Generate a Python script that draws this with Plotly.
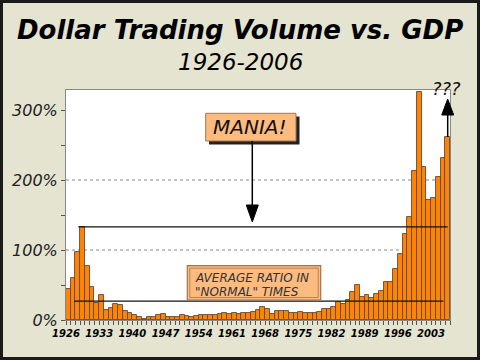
import plotly.graph_objects as go

# ---- data ----
years = list(range(1926, 2007))
ratio_pct = [
    45, 60, 97, 133, 77, 47, 24, 35.5, 15, 16.5,          # 1926-1935
    23, 21.5, 13.5, 10.5, 6.7, 3.8, 2, 4.3, 4.3, 7,        # 1936-1945
    8, 4.8, 4.8, 4.8, 6.7, 5.7, 5, 6, 7.5, 7.5,            # 1946-1955
    7.5, 7.5, 9, 9.5, 9, 10, 9, 10, 10, 11.5,              # 1956-1965
    15, 19, 16, 8.5, 13, 13, 12.5, 9.5, 10, 11,            # 1966-1975
    9.5, 10.5, 10.5, 11.4, 15.7, 15.2, 18, 25.7, 23.3, 28, # 1976-1985
    39.5, 50, 32.4, 36, 31.5, 37, 41, 55, 55, 73,          # 1986-1995
    94, 123, 147, 213, 326, 218, 171, 175, 204, 231,       # 1996-2005
    261,                                                   # 2006
]
label_years = list(range(1926, 2004, 7))
y_ticks = [0, 100, 200, 300]
normal_avg = 27
mania_level = ratio_pct[years.index(1929)]

# ---- geometry helpers (pixel -> paper) ----
W, H = 480, 360
L, R, T, B = 66, 450, 90, 320
def px(x):
    return (x - L) / (R - L)
def py(y):
    return (B - y) / (B - T)

FONT = "DejaVu Sans"
BOX_FILL = "#FDBB80"
BOX_LINE = "#A8734A"

fig = go.Figure()
fig.add_trace(go.Bar(
    x=years, y=ratio_pct,
    marker=dict(color="#FF8405", line=dict(color="#5E4A38", width=0.9)),
    hoverinfo="x+y",
))

shapes = []
# dotted gridlines
for g in [100, 200]:
    shapes.append(dict(type="line", xref="paper", yref="y", x0=0, x1=1, y0=g, y1=g,
                       line=dict(color="#888888", width=1, dash="dot"), layer="below"))
# mania & average lines
shapes.append(dict(type="line", xref="x", yref="y", x0=1928.1, x1=2006.0,
                   y0=mania_level, y1=mania_level, line=dict(color="#111111", width=1.3)))
shapes.append(dict(type="line", xref="x", yref="y", x0=1927.2, x1=2005.1,
                   y0=normal_avg, y1=normal_avg, line=dict(color="#111111", width=1.3)))
# MANIA box with shadow
shapes.append(dict(type="rect", xref="paper", yref="paper",
                   x0=px(209), x1=px(299.5), y0=py(144.5), y1=py(116.5),
                   fillcolor="#222222", line=dict(width=0)))
shapes.append(dict(type="rect", xref="paper", yref="paper",
                   x0=px(205.7), x1=px(296), y0=py(141), y1=py(113.3),
                   fillcolor=BOX_FILL, line=dict(color=BOX_LINE, width=1)))
# MANIA arrow
ax = 252.3
shapes.append(dict(type="line", xref="paper", yref="paper", x0=px(ax), x1=px(ax),
                   y0=py(141), y1=py(208), line=dict(color="black", width=1.5)))
shapes.append(dict(type="path", xref="paper", yref="paper",
                   path=f"M {px(ax-6)},{py(205)} L {px(ax+6)},{py(205)} L {px(ax)},{py(222)} Z",
                   fillcolor="black", line=dict(color="black", width=1)))
# ??? arrow
qx = 447.7
shapes.append(dict(type="line", xref="paper", yref="paper", x0=px(qx), x1=px(qx),
                   y0=py(137), y1=py(112), line=dict(color="black", width=1.5)))
shapes.append(dict(type="path", xref="paper", yref="paper",
                   path=f"M {px(qx-6)},{py(115)} L {px(qx+6)},{py(115)} L {px(qx)},{py(99)} Z",
                   fillcolor="black", line=dict(color="black", width=1)))
# AVERAGE box (double border)
shapes.append(dict(type="rect", xref="paper", yref="paper",
                   x0=px(187.3), x1=px(320.7), y0=py(300), y1=py(265.7),
                   fillcolor=BOX_FILL, line=dict(color=BOX_LINE, width=1.2)))
shapes.append(dict(type="rect", xref="paper", yref="paper",
                   x0=px(189.8), x1=px(318.2), y0=py(297.5), y1=py(268.2),
                   fillcolor="rgba(0,0,0,0)", line=dict(color=BOX_LINE, width=0.8)))
# outer frame
shapes.append(dict(type="rect", xref="paper", yref="paper",
                   x0=px(1.5), x1=px(478.5), y0=py(358.5), y1=py(1.5),
                   line=dict(color="#1a1a1a", width=3)))

annotations = [
    dict(text="Dollar Trading Volume vs. GDP", xref="paper", yref="paper",
         x=px(240), y=py(30), showarrow=False, xanchor="center", yanchor="middle",
         font=dict(family=FONT, size=26, color="black", weight="bold", style="italic")),
    dict(text="1926-2006", xref="paper", yref="paper",
         x=px(240), y=py(62), showarrow=False, xanchor="center", yanchor="middle",
         font=dict(family=FONT, size=23, color="black", style="italic")),
    dict(text="MANIA!", xref="paper", yref="paper",
         x=px(250), y=py(127.5), showarrow=False, xanchor="center", yanchor="middle",
         font=dict(family=FONT, size=20, color="#111111", style="italic")),
    dict(text="???", xref="paper", yref="paper",
         x=px(446), y=py(88), showarrow=False, xanchor="center", yanchor="middle",
         font=dict(family=FONT, size=18, color="#111111", style="italic")),
    dict(text="AVERAGE RATIO IN", xref="paper", yref="paper",
         x=px(192.5), y=py(278), showarrow=False, xanchor="left", yanchor="middle",
         font=dict(family=FONT, size=12, color="#333333", style="italic")),
    dict(text="\"NORMAL\" TIMES", xref="paper", yref="paper",
         x=px(192.5), y=py(291.7), showarrow=False, xanchor="left", yanchor="middle",
         font=dict(family=FONT, size=12, color="#333333", style="italic")),
]

fig.update_layout(
    width=W, height=H,
    margin=dict(l=L, r=W - R, t=T, b=H - B, pad=0),
    paper_bgcolor="#E4E4D0",
    plot_bgcolor="white",
    bargap=0,
    showlegend=False,
    shapes=shapes,
    annotations=annotations,
    xaxis=dict(
        range=[1925.5, 2006.5], tickmode="array",
        tickvals=[y - 0.5 for y in label_years], ticktext=[str(y) for y in label_years],
        ticks="outside", ticklen=4, tickcolor="#555555",
        tickfont=dict(family=FONT, size=10, color="black", weight="bold", style="italic"),
        showgrid=False, zeroline=False, showline=True, linecolor="#888888", linewidth=1,
        mirror=True,
        minor=dict(tickmode="array", tickvals=[y - 0.5 for y in years] + [years[-1] + 0.5],
                   ticks="outside", ticklen=4, tickcolor="#555555", showgrid=False),
    ),
    yaxis=dict(
        range=[0, 328.6], tickmode="array", tickvals=y_ticks,
        ticktext=[f"{v}%" for v in y_ticks],
        ticks="outside", ticklen=4, tickcolor="#555555",
        tickfont=dict(family=FONT, size=16, color="#222222", style="italic"),
        showgrid=False, zeroline=False, showline=True, linecolor="#888888", linewidth=1,
        mirror=True,
        minor=dict(tickmode="array", tickvals=[50, 150, 250], ticks="outside", ticklen=4,
                   tickcolor="#555555", showgrid=False),
    ),
)

fig.write_html("out.html", config={"displayModeBar": False},
               post_script="document.body.style.margin='0';document.body.style.padding='0';")
